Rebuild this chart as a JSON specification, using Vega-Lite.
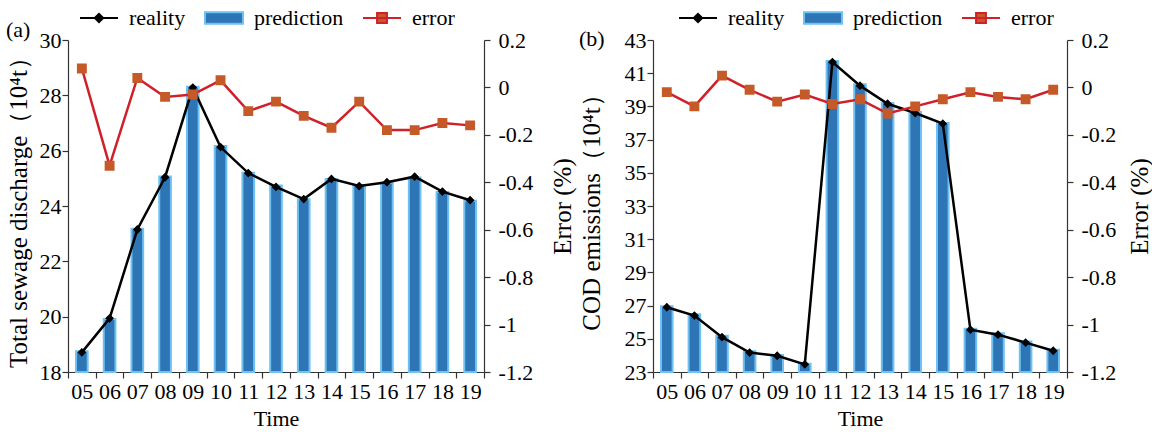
{
  "$schema": "https://vega.github.io/schema/vega-lite/v6.json",
  "padding": {"left": 6, "top": -2, "right": 0, "bottom": 0},
  "background": "white",
  "config": {
    "view": {"stroke": null},
    "axis": {"labelFont": "Liberation Serif", "labelFontSize": 22, "labelColor": "#000", "titleFont": "Liberation Serif", "titleFontSize": 25, "titleFontWeight": "normal", "titleColor": "#000", "grid": false, "domainColor": "#333", "tickColor": "#333", "tickSize": 6, "domainWidth": 1.2, "tickWidth": 1.2},
    "title": {"font": "Liberation Serif", "fontSize": 22, "fontWeight": "normal", "color": "#000", "anchor": "start"},
    "legend": {"orient": "none", "direction": "horizontal", "symbolSize": 1444, "symbolStrokeWidth": 2, "labelFont": "Liberation Serif", "labelFontSize": 22, "labelOffset": 10, "columnPadding": 15, "labelColor": "#000", "labelLimit": 0, "symbolOpacity": 1}
  },
  "datasets": {
    "a": [
      {"t": "05", "reality": 18.71, "prediction": 18.75, "error": 0.08},
      {"t": "06", "reality": 19.94, "prediction": 19.92, "error": -0.33},
      {"t": "07", "reality": 23.15, "prediction": 23.18, "error": 0.04},
      {"t": "08", "reality": 25.04, "prediction": 25.07, "error": -0.04},
      {"t": "09", "reality": 28.28, "prediction": 28.31, "error": -0.03},
      {"t": "10", "reality": 26.13, "prediction": 26.17, "error": 0.03},
      {"t": "11", "reality": 25.19, "prediction": 25.2, "error": -0.1},
      {"t": "12", "reality": 24.69, "prediction": 24.74, "error": -0.06},
      {"t": "13", "reality": 24.25, "prediction": 24.24, "error": -0.12},
      {"t": "14", "reality": 24.98, "prediction": 24.98, "error": -0.17},
      {"t": "15", "reality": 24.72, "prediction": 24.75, "error": -0.06},
      {"t": "16", "reality": 24.86, "prediction": 24.84, "error": -0.18},
      {"t": "17", "reality": 25.06, "prediction": 25.03, "error": -0.18},
      {"t": "18", "reality": 24.52, "prediction": 24.51, "error": -0.15},
      {"t": "19", "reality": 24.21, "prediction": 24.19, "error": -0.16}
    ],
    "b": [
      {"t": "05", "reality": 26.9, "prediction": 26.96, "error": -0.02},
      {"t": "06", "reality": 26.4, "prediction": 26.48, "error": -0.08},
      {"t": "07", "reality": 25.1, "prediction": 25.19, "error": 0.05},
      {"t": "08", "reality": 24.17, "prediction": 24.25, "error": -0.01},
      {"t": "09", "reality": 23.98, "prediction": 24.02, "error": -0.06},
      {"t": "10", "reality": 23.46, "prediction": 23.5, "error": -0.03},
      {"t": "11", "reality": 41.67, "prediction": 41.73, "error": -0.07},
      {"t": "12", "reality": 40.25, "prediction": 40.33, "error": -0.05},
      {"t": "13", "reality": 39.16, "prediction": 39.2, "error": -0.11},
      {"t": "14", "reality": 38.6, "prediction": 38.66, "error": -0.08},
      {"t": "15", "reality": 37.96, "prediction": 38.0, "error": -0.05},
      {"t": "16", "reality": 25.55, "prediction": 25.61, "error": -0.02},
      {"t": "17", "reality": 25.25, "prediction": 25.33, "error": -0.04},
      {"t": "18", "reality": 24.77, "prediction": 24.83, "error": -0.05},
      {"t": "19", "reality": 24.28, "prediction": 24.34, "error": -0.01}
    ]
  },
  "spacing": 3,
  "resolve": {"scale": {"fill": "independent", "stroke": "independent", "shape": "independent"}, "legend": {"fill": "independent", "stroke": "independent", "shape": "independent"}},
  "hconcat": [
    {
      "data": {"name": "a"},
      "width": 416,
      "height": 332,
      "title": {"text": "(a)", "dy": 48},
      "encoding": {
        "x": {"field": "t", "type": "ordinal", "scale": {"paddingInner": 0, "paddingOuter": 0}, "axis": {"title": "Time", "titleFontSize": 22, "labelAngle": 0, "tickBand": "extent", "labelPadding": 3, "titlePadding": 6}}
      },
      "layer": [
        {
          "layer": [
            {
              "mark": {"type": "bar", "strokeWidth": 2, "width": {"band": 0.42}},
              "encoding": {
                "y": {"field": "prediction", "type": "quantitative", "scale": {"domain": [18, 30], "zero": false, "nice": false}, "axis": {"title": "Total sewage discharge（10⁴t）", "values": [18, 20, 22, 24, 26, 28, 30], "labelPadding": 1, "titlePadding": 8}},
                "y2": {"datum": 18},
                "fill": {"datum": "prediction", "type": "nominal", "scale": {"domain": ["reality", "prediction", "error"], "range": ["#000000", "#2E75B6", "#C55A28"]}, "legend": {"legendX": 11, "legendY": -42, "title": null}},
                "stroke": {"datum": "prediction", "type": "nominal", "scale": {"domain": ["reality", "prediction", "error"], "range": ["#000000", "#6EC1F0", "#D0202A"]}, "legend": {"legendX": 11, "legendY": -42, "title": null}}
              }
            },
            {
              "mark": {"type": "line", "strokeWidth": 2.5},
              "encoding": {
                "y": {"field": "reality", "type": "quantitative", "scale": {"domain": [18, 30], "zero": false, "nice": false}, "axis": {"title": "Total sewage discharge（10⁴t）", "values": [18, 20, 22, 24, 26, 28, 30], "labelPadding": 1, "titlePadding": 8}},
                "stroke": {"datum": "reality", "type": "nominal"}
              }
            },
            {
              "mark": {"type": "point", "filled": true, "size": 1600, "opacity": 1},
              "encoding": {
                "y": {"field": "reality", "type": "quantitative", "scale": {"domain": [18, 30], "zero": false, "nice": false}, "axis": {"title": "Total sewage discharge（10⁴t）", "values": [18, 20, 22, 24, 26, 28, 30], "labelPadding": 1, "titlePadding": 8}},
                "fill": {"datum": "reality", "type": "nominal"},
                "shape": {"datum": "reality", "type": "nominal", "scale": {"domain": ["reality", "prediction", "error"], "range": ["M-1,0H1M-0.22,0L0,-0.22L0.22,0L0,0.22Z", "M-1,-0.3H1V0.3H-1Z", "M-1,0H1M-0.26,-0.26H0.26V0.26H-0.26Z"]}, "legend": {"legendX": 11, "legendY": -42, "title": null}}
              }
            }
          ]
        },
        {
          "layer": [
            {
              "mark": {"type": "line", "strokeWidth": 2.5},
              "encoding": {
                "y": {"field": "error", "type": "quantitative", "scale": {"domain": [-1.2, 0.2], "zero": false, "nice": false}, "axis": {"orient": "right", "title": "Error (%)", "titleAngle": 270, "titleBaseline": "top", "values": [0.2, 0, -0.2, -0.4, -0.6, -0.8, -1, -1.2], "labelExpr": "datum.value < 0 ? '-' + format(-datum.value, '.1~f') : format(datum.value, '.1~f')", "labelPadding": 8, "titlePadding": 18}},
                "stroke": {"datum": "error", "type": "nominal"}
              }
            },
            {
              "mark": {"type": "point", "filled": true, "size": 1444, "opacity": 1},
              "encoding": {
                "y": {"field": "error", "type": "quantitative", "scale": {"domain": [-1.2, 0.2], "zero": false, "nice": false}, "axis": {"orient": "right", "title": "Error (%)", "titleAngle": 270, "titleBaseline": "top", "values": [0.2, 0, -0.2, -0.4, -0.6, -0.8, -1, -1.2], "labelExpr": "datum.value < 0 ? '-' + format(-datum.value, '.1~f') : format(datum.value, '.1~f')", "labelPadding": 8, "titlePadding": 18}},
                "fill": {"datum": "error", "type": "nominal"},
                "shape": {"datum": "error", "type": "nominal"}
              }
            }
          ]
        }
      ],
      "resolve": {"scale": {"y": "independent"}}
    },
    {
      "data": {"name": "b"},
      "width": 414,
      "height": 332,
      "title": {"text": "(b)", "dy": 57},
      "encoding": {
        "x": {"field": "t", "type": "ordinal", "scale": {"paddingInner": 0, "paddingOuter": 0}, "axis": {"title": "Time", "titleFontSize": 22, "labelAngle": 0, "tickBand": "extent", "labelPadding": 3, "titlePadding": 6}}
      },
      "layer": [
        {
          "layer": [
            {
              "mark": {"type": "bar", "strokeWidth": 2, "width": {"band": 0.42}},
              "encoding": {
                "y": {"field": "prediction", "type": "quantitative", "scale": {"domain": [23, 43], "zero": false, "nice": false}, "axis": {"title": "COD emissions（10⁴t）", "values": [23, 25, 27, 29, 31, 33, 35, 37, 39, 41, 43], "labelPadding": 1, "titlePadding": 20}},
                "y2": {"datum": 23},
                "fill": {"datum": "prediction", "type": "nominal", "scale": {"domain": ["reality", "prediction", "error"], "range": ["#000000", "#2E75B6", "#C55A28"]}, "legend": {"legendX": 25, "legendY": -42, "title": null}},
                "stroke": {"datum": "prediction", "type": "nominal", "scale": {"domain": ["reality", "prediction", "error"], "range": ["#000000", "#6EC1F0", "#D0202A"]}, "legend": {"legendX": 25, "legendY": -42, "title": null}}
              }
            },
            {
              "mark": {"type": "line", "strokeWidth": 2.5},
              "encoding": {
                "y": {"field": "reality", "type": "quantitative", "scale": {"domain": [23, 43], "zero": false, "nice": false}, "axis": {"title": "COD emissions（10⁴t）", "values": [23, 25, 27, 29, 31, 33, 35, 37, 39, 41, 43], "labelPadding": 1, "titlePadding": 20}},
                "stroke": {"datum": "reality", "type": "nominal"}
              }
            },
            {
              "mark": {"type": "point", "filled": true, "size": 1600, "opacity": 1},
              "encoding": {
                "y": {"field": "reality", "type": "quantitative", "scale": {"domain": [23, 43], "zero": false, "nice": false}, "axis": {"title": "COD emissions（10⁴t）", "values": [23, 25, 27, 29, 31, 33, 35, 37, 39, 41, 43], "labelPadding": 1, "titlePadding": 20}},
                "fill": {"datum": "reality", "type": "nominal"},
                "shape": {"datum": "reality", "type": "nominal", "scale": {"domain": ["reality", "prediction", "error"], "range": ["M-1,0H1M-0.22,0L0,-0.22L0.22,0L0,0.22Z", "M-1,-0.3H1V0.3H-1Z", "M-1,0H1M-0.26,-0.26H0.26V0.26H-0.26Z"]}, "legend": {"legendX": 25, "legendY": -42, "title": null}}
              }
            }
          ]
        },
        {
          "layer": [
            {
              "mark": {"type": "line", "strokeWidth": 2.5},
              "encoding": {
                "y": {"field": "error", "type": "quantitative", "scale": {"domain": [-1.2, 0.2], "zero": false, "nice": false}, "axis": {"orient": "right", "title": "Error (%)", "titleAngle": 270, "titleBaseline": "top", "values": [0.2, 0, -0.2, -0.4, -0.6, -0.8, -1, -1.2], "labelExpr": "datum.value < 0 ? '-' + format(-datum.value, '.1~f') : format(datum.value, '.1~f')", "labelPadding": 8, "titlePadding": 12}},
                "stroke": {"datum": "error", "type": "nominal"}
              }
            },
            {
              "mark": {"type": "point", "filled": true, "size": 1444, "opacity": 1},
              "encoding": {
                "y": {"field": "error", "type": "quantitative", "scale": {"domain": [-1.2, 0.2], "zero": false, "nice": false}, "axis": {"orient": "right", "title": "Error (%)", "titleAngle": 270, "titleBaseline": "top", "values": [0.2, 0, -0.2, -0.4, -0.6, -0.8, -1, -1.2], "labelExpr": "datum.value < 0 ? '-' + format(-datum.value, '.1~f') : format(datum.value, '.1~f')", "labelPadding": 8, "titlePadding": 12}},
                "fill": {"datum": "error", "type": "nominal"},
                "shape": {"datum": "error", "type": "nominal"}
              }
            }
          ]
        }
      ],
      "resolve": {"scale": {"y": "independent"}}
    }
  ]
}
